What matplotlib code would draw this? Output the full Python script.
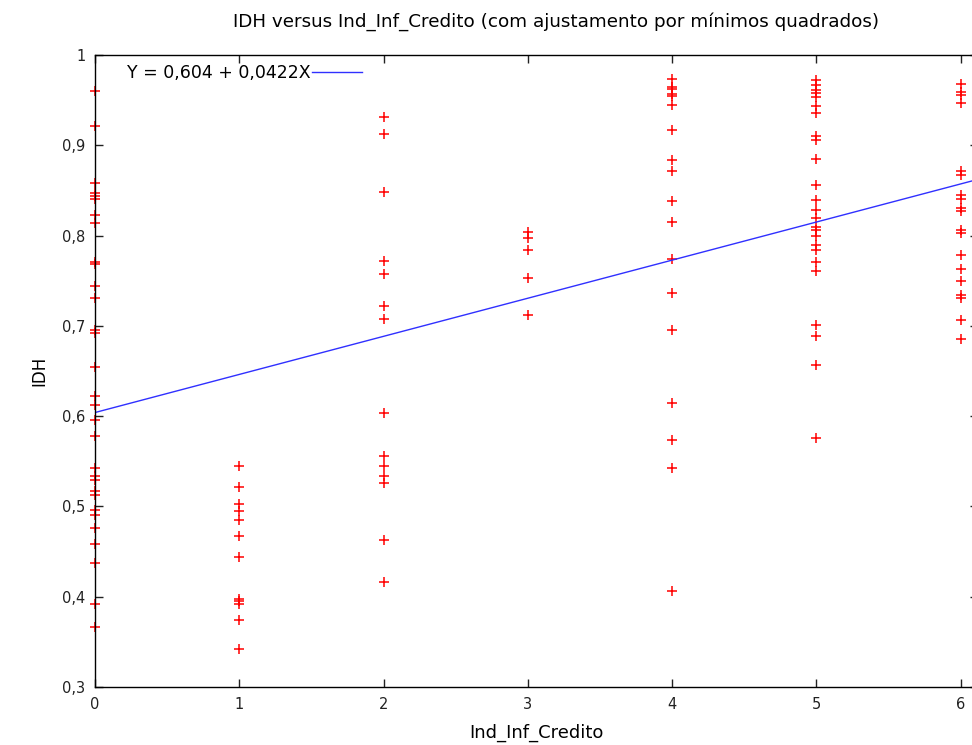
import numpy as np
import matplotlib
matplotlib.use('Agg')
import matplotlib.pyplot as plt
from matplotlib.ticker import FuncFormatter

# Ind_Inf_Credito category -> IDH values
idh_0 = [0.960, 0.921, 0.858, 0.847, 0.844, 0.841, 0.823, 0.814, 0.771, 0.768,
         0.744, 0.731, 0.695, 0.692, 0.654, 0.622, 0.612, 0.596, 0.578, 0.543,
         0.534, 0.529, 0.517, 0.513, 0.496, 0.491, 0.476, 0.458, 0.437, 0.392,
         0.367]
idh_1 = [0.545, 0.522, 0.503, 0.495, 0.485, 0.467, 0.444, 0.397, 0.395, 0.392,
         0.374, 0.342]
idh_2 = [0.931, 0.912, 0.848, 0.772, 0.757, 0.722, 0.708, 0.603, 0.556, 0.545,
         0.534, 0.526, 0.463, 0.416]
idh_3 = [0.804, 0.797, 0.784, 0.753, 0.712]
idh_4 = [0.973, 0.965, 0.962, 0.957, 0.955, 0.945, 0.917, 0.884, 0.872, 0.838,
         0.815, 0.774, 0.736, 0.695, 0.615, 0.574, 0.543, 0.406]
idh_5 = [0.972, 0.967, 0.961, 0.958, 0.953, 0.943, 0.936, 0.910, 0.906, 0.885,
         0.856, 0.839, 0.828, 0.819, 0.810, 0.806, 0.799, 0.790, 0.784, 0.771,
         0.761, 0.701, 0.689, 0.657, 0.576]
idh_6 = [0.968, 0.959, 0.956, 0.947, 0.872, 0.867, 0.845, 0.841, 0.830, 0.827,
         0.806, 0.803, 0.779, 0.763, 0.750, 0.734, 0.731, 0.706, 0.685]
groups = [idh_0, idh_1, idh_2, idh_3, idh_4, idh_5, idh_6]

fit_a = 0.604
fit_b = 0.0422
x_max = 6.12

fig = plt.figure(figsize=(9.72, 7.45), dpi=100)
ax = fig.add_axes([95 / 972, 1 - 687 / 745, (978 - 95) / 972, (687 - 55) / 745])

for i, vals in enumerate(groups):
    ax.plot([i] * len(vals), vals, linestyle='none', marker='+', color='red',
            markersize=7.5, markeredgewidth=1.1, clip_on=False, zorder=2)

xs = np.array([0, x_max])
ax.plot(xs, fit_a + fit_b * xs, color='#3030ff', lw=1.0,
        label='Y = 0,604 + 0,0422X')

ax.set_xlim(0, x_max)
ax.set_ylim(0.3, 1.0)
ax.set_xticks(range(7))
ax.set_yticks([0.3, 0.4, 0.5, 0.6, 0.7, 0.8, 0.9, 1.0])
ax.yaxis.set_major_formatter(FuncFormatter(lambda v, p: ('%g' % round(v, 2)).replace('.', ',')))
ax.tick_params(direction='in', length=6, width=1, top=True, right=True,
               labelsize=10.5, colors='#222222', pad=7)
for s in ax.spines.values():
    s.set_linewidth(1.0)
    s.set_zorder(3)

ax.set_xlabel('Ind_Inf_Credito', fontsize=13, labelpad=9)
ax.set_ylabel('IDH', fontsize=12, labelpad=10)
ax.set_title('IDH versus Ind_Inf_Credito (com ajustamento por mínimos quadrados)',
             fontsize=13.2, pad=20, x=(556 - 95) / (978 - 95))

ax.legend(loc='upper left', bbox_to_anchor=(0.018, 1.011), frameon=False,
          markerfirst=False, handlelength=2.9, handletextpad=0.1,
          fontsize=12.5)

fig.savefig('out.png', dpi=100)
